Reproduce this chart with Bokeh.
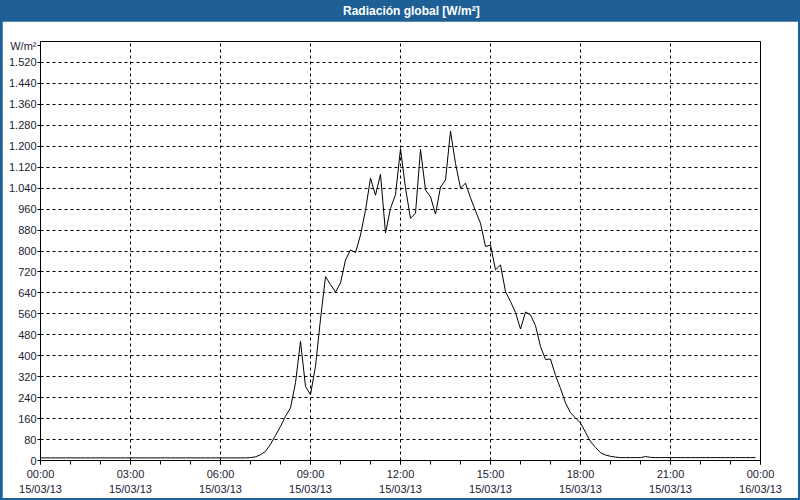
import pandas as pd
from bokeh.plotting import figure
from bokeh.models import Range1d, FixedTicker, Label, ColumnDataSource
from bokeh.layouts import column
from bokeh.embed import file_html
from bokeh.resources import INLINE

TITLE = "Radiación global [W/m²]"
UNIT = "W/m²"
START = "2013-03-15 00:00"
END = "2013-03-16 00:00"

# 10-minute readings, 00:00 .. 23:50
radiation = [
    10, 10, 10, 10, 10, 10, 10, 10, 10, 10, 10, 10,   # 00:00-01:50
    10, 10, 10, 10, 10, 10, 10, 10, 10, 10, 10, 10,   # 02:00-03:50
    10, 10, 10, 10, 10, 10, 10, 10, 10, 10, 10, 10,   # 04:00-05:50
    10, 10, 10, 10, 10, 10, 11, 14, 22, 35, 62, 96,   # 06:00-07:50
    130, 169, 201, 297, 455, 283, 251, 360, 540, 702, 672, 643,   # 08:00-09:50
    678, 766, 804, 794, 861, 956, 1078, 1013, 1093, 869, 963, 1015,  # 10:00-11:50
    1190, 1040, 925, 944, 1188, 1033, 1007, 941, 1044, 1071, 1258, 1134,  # 12:00-13:50
    1040, 1059, 1003, 953, 906, 817, 823, 728, 747, 645, 607, 565,  # 14:00-15:50
    502, 567, 556, 515, 435, 386, 387, 325, 275, 220, 182, 163,  # 16:00-17:50
    143, 108, 72, 50, 30, 21, 16, 13, 11, 11, 11, 11,  # 18:00-19:50
    11, 15, 12, 11, 11, 11, 11, 11, 11, 11, 11, 11,   # 20:00-21:50
    11, 11, 11, 11, 11, 11, 11, 11, 11, 11, 11, 11,   # 22:00-23:50
]
times = pd.date_range(START, periods=len(radiation), freq="10min")

x_tick_hours = [0, 3, 6, 9, 12, 15, 18, 21, 24]
x_tick_labels = ["00:00\n15/03/13", "03:00\n15/03/13", "06:00\n15/03/13",
                 "09:00\n15/03/13", "12:00\n15/03/13", "15:00\n15/03/13",
                 "18:00\n15/03/13", "21:00\n15/03/13", "00:00\n16/03/13"]
x_minor_hours = list(range(0, 25))
y_ticks = [0, 80, 160, 240, 320, 400, 480, 560, 640, 720, 800, 880, 960,
           1040, 1120, 1200, 1280, 1360, 1440, 1520]
y_tick_labels = ["0", "80", "160", "240", "320", "400", "480", "560", "640",
                 "720", "800", "880", "960", "1.040", "1.120", "1.200",
                 "1.280", "1.360", "1.440", "1.520"]
Y_MAX = 1600
UNIT_POS = 1584   # where the unit text sits on the value axis

BLUE = "#1e5f96"
TEXT = "#1c2236"
FONT = "Liberation Sans"

t0 = pd.Timestamp(START)
t1 = pd.Timestamp(END)


def ms(h):
    return float((t0 + pd.Timedelta(hours=h)).value // 10**6)


major_ms = [ms(h) for h in x_tick_hours]
minor_ms = [ms(h) for h in x_minor_hours]

source = ColumnDataSource(data=dict(t=times, v=radiation))

# title bar
tf = figure(width=800, height=21, x_range=Range1d(0, 800), y_range=Range1d(0, 21),
            output_backend="svg", toolbar_location=None, min_border=0,
            x_axis_location=None, y_axis_location=None,
            background_fill_color=BLUE, border_fill_color=BLUE,
            outline_line_color=None)
tf.grid.visible = False
tf.add_layout(Label(x=412, y=10.5, text=TITLE, text_align="center",
                    text_baseline="middle", text_color="white",
                    text_font=FONT, text_font_style="bold",
                    text_font_size="12px"))

p = figure(width=796, height=477, x_axis_type="datetime",
           x_range=Range1d(t0, t1), y_range=Range1d(0, Y_MAX),
           output_backend="svg", toolbar_location=None,
           min_border_left=38, min_border_right=38,
           min_border_top=20, min_border_bottom=37,
           margin=(0, 2, 2, 2),
           background_fill_color="white", border_fill_color="white",
           outline_line_color="black", outline_line_width=1)

p.line("t", "v", source=source, line_color="black", line_width=1)

p.xaxis.ticker = FixedTicker(ticks=major_ms, minor_ticks=minor_ms)
p.xaxis.major_label_overrides = dict(zip(major_ms, x_tick_labels))

# value axis: numeric ticks plus the unit text at the top
axis_ticks = y_ticks + [UNIT_POS]
axis_labels = y_tick_labels + [UNIT]
p.yaxis.ticker = FixedTicker(ticks=axis_ticks, minor_ticks=[])
p.yaxis.major_label_overrides = dict(zip(axis_ticks, axis_labels))
p.ygrid.ticker = FixedTicker(ticks=y_ticks, minor_ticks=[])
p.xgrid.ticker = FixedTicker(ticks=major_ms, minor_ticks=[])

for ax in p.axis:
    ax.axis_line_color = "black"
    ax.major_tick_line_color = "black"
    ax.major_tick_in = 0
    ax.minor_tick_in = 0
    ax.major_label_text_font = FONT
    ax.major_label_text_font_size = "11px"
    ax.major_label_text_color = TEXT

p.xaxis.major_tick_out = 4
p.xaxis.minor_tick_out = 4
p.xaxis.minor_tick_line_color = "black"
p.xaxis.major_label_standoff = 3
p.xaxis.major_label_text_line_height = 1.3
p.yaxis.major_tick_out = 3
p.yaxis.minor_tick_line_color = None
p.yaxis.major_label_standoff = 1

p.grid.grid_line_color = "black"
p.grid.grid_line_dash = "3 3"
p.grid.grid_line_width = 1

layout = column(tf, p, spacing=0, styles={"background-color": BLUE})

open("out.html", "w").write(file_html(layout, INLINE))
